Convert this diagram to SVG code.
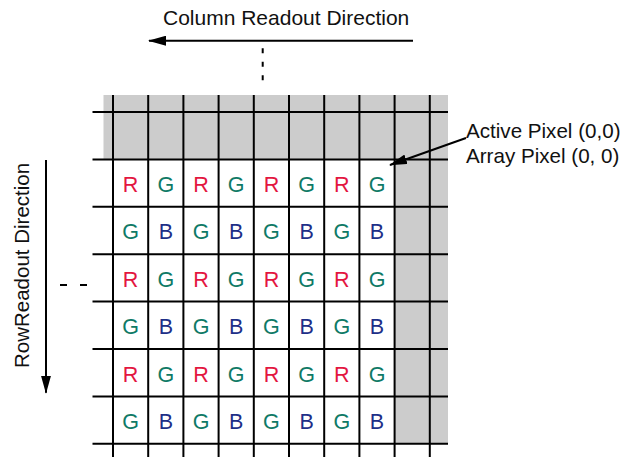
<svg xmlns="http://www.w3.org/2000/svg" width="622" height="457" viewBox="0 0 622 457">
<style>
.lbl{font-family:"Liberation Sans",Arial,sans-serif;font-size:21px;fill:#111}
.pl{font-size:20.6px}
.rl{font-size:20.5px}
.cell{font-family:"Liberation Sans",Arial,sans-serif;font-size:21.5px;text-anchor:middle}
.r{fill:#e3163f}.g{fill:#0f7a66}.b{fill:#1e2f88}
.grid line{stroke:#000;stroke-width:2}
.conn{stroke:#000;stroke-width:2;fill:none}
.dash{stroke:#000;stroke-width:2;fill:none}
</style>
<defs>
<marker id="ah" markerUnits="userSpaceOnUse" markerWidth="18" markerHeight="10" refX="17" refY="5" orient="auto">
<path d="M0,0 L18,5 L0,10 z" fill="#000"/>
</marker>
</defs>
<rect width="622" height="457" fill="#fff"/>
<g id="pixel-array">
<path d="M103.5,95 H448 V443 H394.6 V159.4 H103.5 Z" fill="#cccccc"/>
<g class="grid">
<line x1="113" y1="95" x2="113" y2="457"/>
<line x1="148.2" y1="95" x2="148.2" y2="457"/>
<line x1="183.4" y1="95" x2="183.4" y2="457"/>
<line x1="218.6" y1="95" x2="218.6" y2="457"/>
<line x1="253.8" y1="95" x2="253.8" y2="457"/>
<line x1="289" y1="95" x2="289" y2="457"/>
<line x1="324.2" y1="95" x2="324.2" y2="457"/>
<line x1="359.4" y1="95" x2="359.4" y2="457"/>
<line x1="394.6" y1="95" x2="394.6" y2="457"/>
<line x1="429.8" y1="95" x2="429.8" y2="457"/>
<line x1="92.5" y1="112" x2="448" y2="112"/>
<line x1="92.5" y1="159.4" x2="448" y2="159.4"/>
<line x1="92.5" y1="206.8" x2="448" y2="206.8"/>
<line x1="92.5" y1="254.2" x2="448" y2="254.2"/>
<line x1="92.5" y1="301.6" x2="448" y2="301.6"/>
<line x1="92.5" y1="349" x2="448" y2="349"/>
<line x1="92.5" y1="396.4" x2="448" y2="396.4"/>
<line x1="92.5" y1="443.8" x2="448" y2="443.8"/>
</g>
<g id="cells">
<text class="cell r" x="130.6" y="191.5">R</text><text class="cell g" x="165.8" y="191.5">G</text><text class="cell r" x="201" y="191.5">R</text><text class="cell g" x="236.2" y="191.5">G</text><text class="cell r" x="271.4" y="191.5">R</text><text class="cell g" x="306.6" y="191.5">G</text><text class="cell r" x="341.8" y="191.5">R</text><text class="cell g" x="377" y="191.5">G</text>
<text class="cell g" x="130.6" y="239">G</text><text class="cell b" x="165.8" y="239">B</text><text class="cell g" x="201" y="239">G</text><text class="cell b" x="236.2" y="239">B</text><text class="cell g" x="271.4" y="239">G</text><text class="cell b" x="306.6" y="239">B</text><text class="cell g" x="341.8" y="239">G</text><text class="cell b" x="377" y="239">B</text>
<text class="cell r" x="130.6" y="286.5">R</text><text class="cell g" x="165.8" y="286.5">G</text><text class="cell r" x="201" y="286.5">R</text><text class="cell g" x="236.2" y="286.5">G</text><text class="cell r" x="271.4" y="286.5">R</text><text class="cell g" x="306.6" y="286.5">G</text><text class="cell r" x="341.8" y="286.5">R</text><text class="cell g" x="377" y="286.5">G</text>
<text class="cell g" x="130.6" y="334">G</text><text class="cell b" x="165.8" y="334">B</text><text class="cell g" x="201" y="334">G</text><text class="cell b" x="236.2" y="334">B</text><text class="cell g" x="271.4" y="334">G</text><text class="cell b" x="306.6" y="334">B</text><text class="cell g" x="341.8" y="334">G</text><text class="cell b" x="377" y="334">B</text>
<text class="cell r" x="130.6" y="381.5">R</text><text class="cell g" x="165.8" y="381.5">G</text><text class="cell r" x="201" y="381.5">R</text><text class="cell g" x="236.2" y="381.5">G</text><text class="cell r" x="271.4" y="381.5">R</text><text class="cell g" x="306.6" y="381.5">G</text><text class="cell r" x="341.8" y="381.5">R</text><text class="cell g" x="377" y="381.5">G</text>
<text class="cell g" x="130.6" y="429">G</text><text class="cell b" x="165.8" y="429">B</text><text class="cell g" x="201" y="429">G</text><text class="cell b" x="236.2" y="429">B</text><text class="cell g" x="271.4" y="429">G</text><text class="cell b" x="306.6" y="429">B</text><text class="cell g" x="341.8" y="429">G</text><text class="cell b" x="377" y="429">B</text>
</g>
</g>
<g id="column-label"><text class="lbl" x="163" y="25">Column Readout Direction</text></g>
<g id="row-label"><text class="lbl rl" transform="translate(28.5,368) rotate(-90)" x="0" y="0">RowReadout Direction</text></g>
<g id="pixel-label">
<text class="lbl pl" x="466" y="137.5">Active Pixel (0,0)</text>
<text class="lbl pl" x="466" y="163">Array Pixel (0, 0)</text>
</g>
<g id="connectors">
<line class="conn" x1="413" y1="40.7" x2="149" y2="40.7" marker-end="url(#ah)"/>
<line class="conn" x1="46" y1="160" x2="46" y2="392.7" marker-end="url(#ah)"/>
<line class="conn" x1="466" y1="138" x2="390" y2="165" marker-end="url(#ah)"/>
<line class="dash" x1="262.7" y1="48.3" x2="262.7" y2="81" stroke-dasharray="5 8.5"/>
<line class="dash" x1="60" y1="285" x2="88" y2="285" stroke-dasharray="7 13"/>
</g>
</svg>
